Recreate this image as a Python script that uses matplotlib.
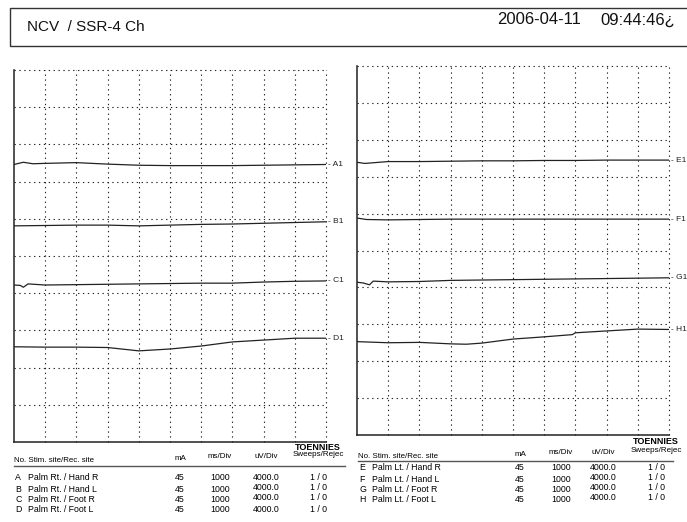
import matplotlib
matplotlib.use("Agg")
import matplotlib.pyplot as plt
from matplotlib.patches import Rectangle

plt.rcParams['font.family'] = ['Liberation Sans', 'DejaVu Sans']

W, H = 687, 522

# traces: time in ms (1000 ms/div), position in divisions from bottom of panel
t_a1 = [0, 300, 600, 1000, 2000, 3000, 4000, 5000, 6000, 7000, 8000, 9000, 10000]
a1 = [7.46, 7.52, 7.48, 7.49, 7.51, 7.47, 7.44, 7.43, 7.43, 7.43, 7.44, 7.45, 7.46]
t_b1 = [0, 1000, 2000, 3000, 4000, 5000, 6000, 7000, 8000, 9000, 10000]
b1 = [5.81, 5.82, 5.83, 5.83, 5.81, 5.83, 5.85, 5.86, 5.88, 5.90, 5.92]
t_c1 = [0, 200, 300, 450, 1000, 2000, 3000, 4000, 5000, 6000, 7000, 8000, 9000, 10000]
c1 = [4.22, 4.21, 4.16, 4.25, 4.22, 4.23, 4.24, 4.25, 4.26, 4.27, 4.27, 4.30, 4.32, 4.33]
t_d1 = [0, 1000, 2000, 3000, 4000, 5000, 6000, 7000, 8000, 9000, 10000]
d1 = [2.56, 2.55, 2.55, 2.54, 2.45, 2.50, 2.58, 2.69, 2.74, 2.79, 2.79]

t_e1 = [0, 250, 1000, 2000, 3000, 4000, 5000, 6000, 7000, 8000, 9000, 10000]
e1 = [7.39, 7.36, 7.41, 7.41, 7.42, 7.43, 7.43, 7.44, 7.44, 7.45, 7.45, 7.45]
t_f1 = [0, 300, 1000, 2000, 3000, 4000, 5000, 6000, 7000, 8000, 9000, 10000]
f1 = [5.88, 5.84, 5.83, 5.84, 5.85, 5.85, 5.85, 5.85, 5.85, 5.85, 5.85, 5.85]
t_g1 = [0, 200, 400, 520, 1000, 2000, 3000, 4000, 5000, 6000, 7000, 8000, 9000, 10000]
g1 = [4.14, 4.12, 4.07, 4.17, 4.15, 4.16, 4.19, 4.20, 4.21, 4.22, 4.23, 4.24, 4.25, 4.26]
t_h1 = [0, 1000, 2000, 3000, 3500, 4000, 5000, 6000, 6900, 7000, 8000, 9000, 10000]
h1 = [2.53, 2.50, 2.51, 2.47, 2.46, 2.49, 2.60, 2.66, 2.72, 2.77, 2.82, 2.87, 2.86]

left_labels = ["A1", "B1", "C1", "D1"]
right_labels = ["E1", "F1", "G1", "H1"]

# table
letters_left = ["A", "B", "C", "D"]
sites_left = ["Palm Rt. / Hand R", "Palm Rt. / Hand L", "Palm Rt. / Foot R", "Palm Rt. / Foot L"]
letters_right = ["E", "F", "G", "H"]
sites_right = ["Palm Lt. / Hand R", "Palm Lt. / Hand L", "Palm Lt. / Foot R", "Palm Lt. / Foot L"]
mA = [45, 45, 45, 45]
ms_div = [1000, 1000, 1000, 1000]
uv_div = ["4000.0", "4000.0", "4000.0", "4000.0"]
sweeps = ["1 / 0", "1 / 0", "1 / 0", "1 / 0"]


def px(x, y):
    return x / W, 1 - y / H


fig = plt.figure(figsize=(6.87, 5.22), dpi=100)

# header box
fig.add_artist(Rectangle(px(10, 46), (W - 10) / W + 0.01, 38 / H, transform=fig.transFigure,
                         fill=False, ec='#333333', lw=1.0))
fig.text(*px(27, 27), "NCV  / SSR-4 Ch", fontsize=11, va='center', color='#111111')
fig.text(*px(497, 20), "2006-04-11", fontsize=12, va='center', color='#111111')
fig.text(*px(600, 20), "09:44:46¿", fontsize=12, va='center', color='#111111')


def panel(rect, traces, labels):
    ax = fig.add_axes(rect)
    ax.set_xlim(0, 10000)
    ax.set_ylim(0, 10)
    for k in range(1, 11):
        ax.axvline(k * 1000, color='#222222', lw=0.8, ls=(0, (1.2, 3.2)), clip_on=False)
        ax.axhline(k, color='#222222', lw=0.8, ls=(0, (1.2, 3.2)), clip_on=False)
    for s in ['top', 'right']:
        ax.spines[s].set_visible(False)
    for s in ['left', 'bottom']:
        ax.spines[s].set_linewidth(1.1)
        ax.spines[s].set_color('#222222')
    ax.set_xticks([])
    ax.set_yticks([])
    ax.patch.set_alpha(0)
    for (t, v), lab in zip(traces, labels):
        ax.plot(t, v, color='#222222', lw=0.9)
        ax.annotate("- " + lab, (10000, v[-1]), xytext=(1.5, 0), textcoords='offset points',
                    fontsize=6, va='center', annotation_clip=False, color='#222222')
    return ax


panel([14 / W, 1 - 442 / H, 312 / W, 372 / H],
      [(t_a1, a1), (t_b1, b1), (t_c1, c1), (t_d1, d1)], left_labels)
panel([357 / W, 1 - 435 / H, 312 / W, 369 / H],
      [(t_e1, e1), (t_f1, f1), (t_g1, g1), (t_h1, h1)], right_labels)


def table(x0, cols, y_head, y_toen, y_line, line_x1, rows_y, letters, sites):
    fs = 6.3
    fig.text(*px(x0, y_head), "No. Stim. site/Rec. site", fontsize=5.7, va='center')
    fig.text(*px(cols[0], y_head - 2), "mA", fontsize=5.8, va='center', ha='center')
    fig.text(*px(cols[1], y_head - 3), "ms/Div", fontsize=5.8, va='center', ha='center')
    fig.text(*px(cols[2], y_head - 4), "uV/Div", fontsize=5.8, va='center', ha='center')
    fig.text(*px(cols[3], y_toen), "TOENNIES", fontsize=6.5, va='center', ha='center', weight='bold')
    fig.text(*px(cols[3], y_head - 5), "Sweeps/Rejec", fontsize=5.8, va='center', ha='center')
    fig.add_artist(plt.Line2D([x0 / W, line_x1 / W], [1 - y_line / H, 1 - y_line / H],
                              color='#555555', lw=1.0, transform=fig.transFigure))
    for i, y in enumerate(rows_y):
        fig.text(*px(x0 + 1, y), letters[i], fontsize=fs, va='center')
        fig.text(*px(x0 + 14, y), sites[i], fontsize=fs, va='center')
        fig.text(*px(cols[0], y), str(mA[i]), fontsize=fs, va='center', ha='center')
        fig.text(*px(cols[1], y), str(ms_div[i]), fontsize=fs, va='center', ha='center')
        fig.text(*px(cols[2], y - 1), uv_div[i], fontsize=fs, va='center', ha='center')
        fig.text(*px(cols[3], y - 1), sweeps[i], fontsize=fs, va='center', ha='center')


table(14, [180, 220, 266, 318], 460, 447, 466, 345, [478, 489, 499, 510], letters_left, sites_left)
table(358, [520, 561, 603, 656], 456, 442, 461, 673, [468, 479, 489, 499], letters_right, sites_right)

fig.savefig("out.png", dpi=100)
